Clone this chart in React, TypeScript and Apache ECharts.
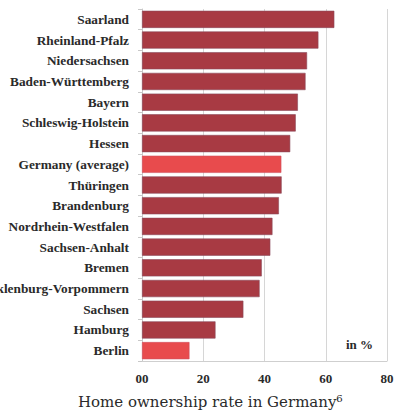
import React, { useEffect, useRef } from "react";
import * as echarts from "echarts";

const categories = [
  "Saarland",
  "Rheinland-Pfalz",
  "Niedersachsen",
  "Baden-Württemberg",
  "Bayern",
  "Schleswig-Holstein",
  "Hessen",
  "Germany (average)",
  "Thüringen",
  "Brandenburg",
  "Nordrhein-Westfalen",
  "Sachsen-Anhalt",
  "Bremen",
  "Mecklenburg-Vorpommern",
  "Sachsen",
  "Hamburg",
  "Berlin",
];

const values = [
  62.8, 57.6, 53.9, 53.4, 50.9, 50.2, 48.4, 45.5, 45.6, 44.7, 42.6, 41.9, 39.1,
  38.4, 33.1, 24.0, 15.5,
];

const highlighted = ["Germany (average)", "Berlin"];

const xTicks = [0, 20, 40, 60, 80];

const title = "Home ownership rate in Germany⁶";
const unitLabel = "in %";

export default function App() {
  const ref = useRef<HTMLDivElement>(null);

  useEffect(() => {
    if (!ref.current) return;
    const chart = echarts.init(ref.current, null, { renderer: "svg" });
    const serif = "Liberation Serif";
    chart.setOption({
      animation: false,
      backgroundColor: "#ffffff",
      textStyle: { fontFamily: serif },
      grid: {
        left: 142,
        right: 9,
        top: 9,
        bottom: 54,
        containLabel: false,
        outerBoundsMode: "none",
      },
      xAxis: {
        type: "value",
        min: xTicks[0],
        max: xTicks[xTicks.length - 1],
        interval: 20,
        axisLine: { show: true, lineStyle: { color: "#cfcfcf", width: 1 } },
        axisTick: { show: false },
        splitLine: { show: true, lineStyle: { color: "#d6d6d6", width: 1 } },
        axisLabel: {
          margin: 11,
          fontFamily: serif,
          fontWeight: "bold",
          fontSize: 13,
          color: "#2a2a2a",
          formatter: (v: number) => (v === 0 ? "00" : String(v)),
        },
      },
      yAxis: {
        type: "category",
        data: categories,
        inverse: true,
        axisLine: { show: true, lineStyle: { color: "#c8c8c8", width: 1 } },
        axisTick: { show: true, length: 4, lineStyle: { color: "#c8c8c8" } },
        axisLabel: {
          margin: 13,
          fontFamily: serif,
          fontWeight: "bold",
          fontSize: 13.3,
          color: "#2a2a2a",
          interval: 0,
        },
      },
      series: [
        {
          type: "bar",
          barCategoryGap: "17%",
          data: values.map((v, i) => ({
            value: v,
            itemStyle: {
              color: highlighted.includes(categories[i]) ? "#e84b4d" : "#a83a43",
              borderColor: highlighted.includes(categories[i]) ? "#d05060" : "#8a4a5a",
              borderWidth: 0.6,
            },
          })),
        },
      ],
      graphic: [
        {
          type: "text",
          left: 346,
          top: 338,
          style: {
            text: unitLabel,
            font: `bold 13px ${serif}`,
            fill: "#2a2a2a",
          },
        },
        {
          type: "text",
          left: 78,
          top: 394,
          style: {
            text: title,
            font: `15px DejaVu Serif`,
            fill: "#2a2a2a",
          },
        },
      ],
    });
    return () => chart.dispose();
  }, []);

  return (
    <div
      ref={ref}
      style={{ position: "fixed", left: 0, top: 0, width: 396, height: 415 }}
    />
  );
}
